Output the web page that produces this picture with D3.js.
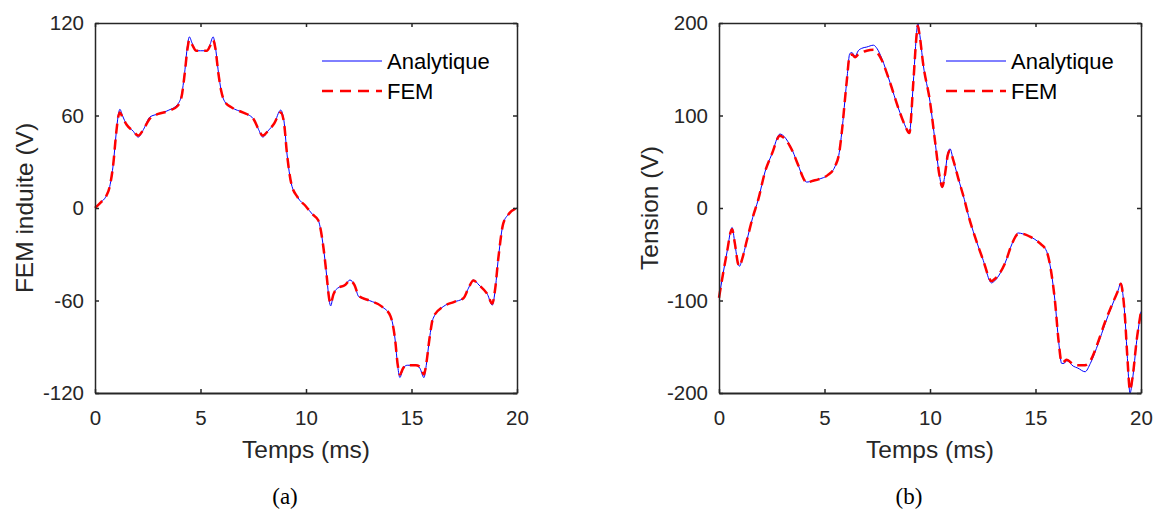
<!DOCTYPE html>
<html><head><meta charset="utf-8">
<script src="https://cdn.jsdelivr.net/npm/d3@7"></script>
<style>body{margin:0;background:#fff}svg{display:block}</style>
</head><body>
<script>
// ---- Data (t in ms, value in V) ----
const emfT = [0,0.3,0.5,0.7,0.87,1.0,1.1,1.18,1.3,1.5,1.8,2.05,2.3,2.6,3.0,3.5,3.9,4.1,4.25,4.38,4.47,4.6,4.8,5.0,5.3,5.45,5.6,5.7,5.85,5.98,6.15,6.5,7.0,7.5,7.75,7.95,8.2,8.5,8.8,8.95,9.1,9.3,9.6,10.0,10.3,10.58,10.82,10.98,11.1,11.17,11.3,11.5,11.85,12.08,12.3,12.5,13.0,13.6,14.0,14.22,14.35,14.45,14.6,14.8,15.2,15.4,15.59,15.7,15.85,16.03,16.5,17.0,17.46,17.7,17.93,18.2,18.6,18.83,18.95,19.12,19.35,19.6,20.0];
const emfAnalytique = [0,4,7,14,29,48,60,64,60,54,50,46,51,59,61,63.5,67,73,88,105,111,107,102,102,102,106,111,105,88,76,69,65,62,58,51,46,50,55,63.5,57,35,16,7,1,-4,-8,-25,-44,-60,-63.5,-56,-52,-50,-46.7,-50,-57.5,-60,-64,-70,-85,-103,-110,-104,-102,-102,-104,-110,-102,-85,-71.5,-64,-61,-58.6,-52,-46.7,-50,-56,-63,-55,-32,-10,-4,0];
const emfFEM = [0,4,7,14,29,48,59,62,59,54,50,47,51,58,61,63,66,72,87,103,109,106,102,102,102,105,109,104,87,76,69,65,62,58,51,47,50,55,62,56,35,16,7,1,-4,-8,-25,-44,-59,-62,-56,-52,-50,-47,-50,-57,-60,-64,-70,-85,-102,-108,-104,-102,-102,-103,-108,-101,-85,-71,-64,-61,-58.6,-52,-47,-50,-56,-62,-54,-32,-10,-4,0];

const tenT = [0,0.2,0.4,0.55,0.62,0.75,0.9,0.97,1.1,1.31,1.6,1.86,2.18,2.5,2.89,3.0,3.36,3.76,4.0,4.16,4.4,4.71,5.18,5.5,5.7,5.82,6.05,6.2,6.3,6.45,6.6,6.76,7.0,7.32,7.5,7.71,8.1,8.5,8.8,9.02,9.21,9.35,9.42,9.5,9.68,10.0,10.24,10.45,10.58,10.7,10.85,10.95,11.1,11.34,11.63,11.82,12.13,12.5,12.92,13.0,13.55,13.9,14.18,14.4,14.74,15.2,15.53,15.75,15.92,16.1,16.24,16.35,16.48,16.79,17.0,17.35,17.6,17.98,18.3,18.6,18.9,19.05,19.15,19.24,19.35,19.48,19.6,19.8,20.0];
const tenAnalytique = [-97,-70,-45,-25,-21,-38,-60,-63,-55,-36,-10,9,39,58,80,79,68,46,32,28,29,31,36,45,60,82,136,167,168,164,170,172.6,174,176,172,162,136,108,90,81,136,185,200,190,155,115,72,35,22,35,60,64,52,32,9,-8,-31,-55,-81,-80,-60,-38,-27,-28,-31,-38,-47,-70,-100,-145,-168,-168,-165,-171,-173,-177,-168,-146,-125,-107,-90,-81,-95,-118,-160,-200,-185,-143,-112];
const tenFEM = [-97,-70,-45,-26,-23,-38,-60,-63,-55,-36,-10,9,39,58,78,77,67,46,32,27,29,31,36,45,60,82,136,165,166,163,166,168,170,171,168,160,136,108,90,81,136,183,197,188,155,115,72,35,23,35,58,62,52,32,9,-8,-31,-55,-79,-78,-60,-38,-28,-28,-31,-38,-47,-70,-100,-145,-167,-166,-164,-169,-170,-170,-165,-144,-123,-106,-90,-82,-95,-118,-160,-197,-183,-142,-112];

const xTicks = [0,5,10,15,20];
const emfTicks = [-120,-60,0,60,120];
const tenTicks = [-200,-100,0,100,200];
const seriesNames = ["Analytique","FEM"];

const W=1156,H=516;
const svg=d3.select("body").append("svg").attr("width",W).attr("height",H);
const axisColor="#262626";
const font="'Liberation Sans', Arial, sans-serif";
const fmt = d => String(d);

function panel(opts){
  const {x0,x1,y0,y1,yDomain,yTicks,ylabel,T,A,F,label,legX,legY,ylabX} = opts;
  const x=d3.scaleLinear().domain([0,20]).range([x0,x1]);
  const y=d3.scaleLinear().domain(yDomain).range([y1,y0]);
  const g=svg.append("g");
  const line=d3.line().x((d,i)=>x(T[i])).y(d=>y(d)).curve(d3.curveMonotoneX);
  g.append("path").datum(A).attr("d",line).attr("fill","none").attr("stroke","#0000ff").attr("stroke-width",1);
  g.append("path").datum(F).attr("d",line).attr("fill","none").attr("stroke","#ff0000").attr("stroke-width",2.5).attr("stroke-dasharray","10,6");
  const tl=4;
  const bottom=g.append("g").attr("transform",`translate(0,${y1})`).call(d3.axisBottom(x).tickValues(xTicks).tickSizeInner(-tl).tickSizeOuter(0).tickPadding(17).tickFormat(fmt));
  const top=g.append("g").attr("transform",`translate(0,${y0})`).call(d3.axisTop(x).tickValues(xTicks).tickSizeInner(-tl).tickSizeOuter(0).tickFormat(""));
  const left=g.append("g").attr("transform",`translate(${x0},0)`).call(d3.axisLeft(y).tickValues(yTicks).tickSizeInner(-tl).tickSizeOuter(0).tickPadding(11).tickFormat(fmt));
  const right=g.append("g").attr("transform",`translate(${x1},0)`).call(d3.axisRight(y).tickValues(yTicks).tickSizeInner(-tl).tickSizeOuter(0).tickFormat(""));
  [bottom,top,left,right].forEach(a=>{
    a.select(".domain").attr("stroke",axisColor).attr("stroke-width",1.5);
    a.selectAll(".tick line").attr("stroke",axisColor).attr("stroke-width",1.5);
    a.selectAll("text").attr("fill",axisColor).style("font-family",font).style("font-size","20.5px");
  });
  bottom.select(".domain").attr("stroke-width",2.2);
  g.append("text").attr("x",(x0+x1)/2).attr("y",458).attr("text-anchor","middle")
    .style("font-family",font).style("font-size","24.5px").attr("fill",axisColor).text("Temps (ms)");
  g.append("text").attr("transform",`translate(${ylabX},${(y0+y1)/2}) rotate(-90)`).attr("text-anchor","middle")
    .style("font-family",font).style("font-size","24.5px").attr("fill",axisColor).text(ylabel);
  g.append("text").attr("x",(x0+x1)/2-21).attr("y",504).attr("text-anchor","middle")
    .style("font-family","'Liberation Serif', 'Times New Roman', serif").style("font-size","23px").attr("fill","#000").text(label);
  const ly=[legY, legY+30];
  const styles=[{c:"#0000ff",w:1,d:null},{c:"#ff0000",w:2.5,d:"11,7"}];
  seriesNames.forEach((n,i)=>{
    const s=styles[i];
    const l=g.append("line").attr("x1",legX).attr("x2",legX+60).attr("y1",ly[i]).attr("y2",ly[i])
      .attr("stroke",s.c).attr("stroke-width",s.w);
    if(s.d) l.attr("stroke-dasharray",s.d);
    g.append("text").attr("x",legX+65).attr("y",ly[i]+7.5).style("font-family",font).style("font-size","22px")
      .attr("fill","#000").text(n);
  });
}

panel({x0:95,x1:517,y0:23,y1:393,yDomain:[-120,120],yTicks:emfTicks,ylabel:"FEM induite (V)",T:emfT,A:emfAnalytique,F:emfFEM,label:"(a)",legX:322,legY:61,ylabX:33});
panel({x0:719,x1:1141,y0:23,y1:393,yDomain:[-200,200],yTicks:tenTicks,ylabel:"Tension (V)",T:tenT,A:tenAnalytique,F:tenFEM,label:"(b)",legX:946,legY:61,ylabX:658});
</script>
</body></html>
